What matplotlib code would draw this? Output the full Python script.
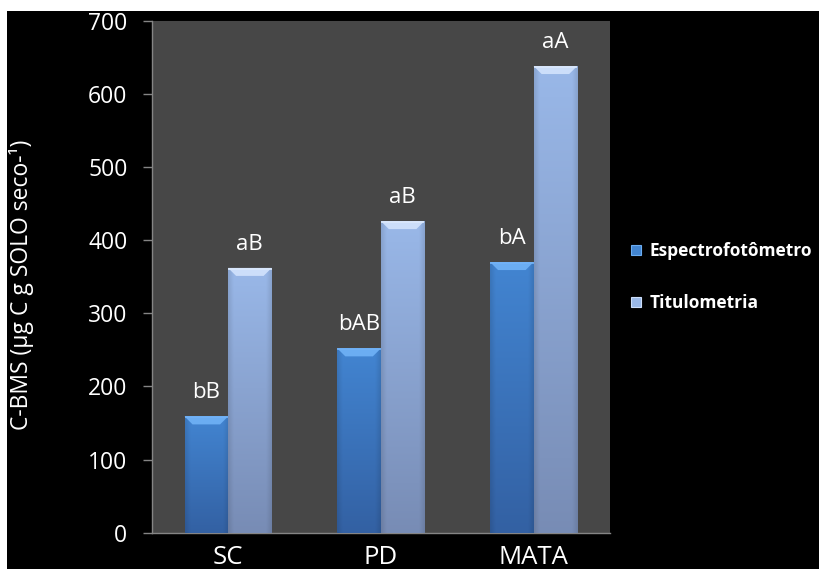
import matplotlib
matplotlib.use('Agg')
import matplotlib.pyplot as plt
import numpy as np
from matplotlib.patches import Polygon, Rectangle
from matplotlib.lines import Line2D

# ---- data ----
categories = ['SC', 'PD', 'MATA']
series_names = ['Espectrofotômetro', 'Titulometria']
espectro = [159, 252, 370]
titulo = [362, 426, 638]
letters_espectro = ['bB', 'bAB', 'bA']
letters_titulo = ['aB', 'aB', 'aA']
yticks = [0, 100, 200, 300, 400, 500, 600, 700]

plt.rcParams['font.family'] = ['Open Sans', 'DejaVu Sans']

W, H = 819, 569
fig = plt.figure(figsize=(W / 100, H / 100), dpi=100, facecolor='white')
fig.add_artist(Rectangle((7 / W, 0), 1, 1 - 11 / H, transform=fig.transFigure,
                         facecolor='black', edgecolor='none', zorder=-10))

ax_l, ax_b = 151.7 / W, 1 - 532.7 / H
ax_w, ax_h = (610 - 151.7) / W, (532.7 - 20.7) / H
ax = fig.add_axes([ax_l, ax_b, ax_w, ax_h])
ax.set_facecolor('#474747')

xmin, xmax = -0.5, len(categories) - 0.5
ymin, ymax = 0, 700
x = np.arange(len(categories))
bw = 0.285

styles = [
    dict(top=(0.26, 0.52, 0.82), bot=(0.20, 0.38, 0.64), bevel=(0.42, 0.68, 0.95), edge=(0.45, 0.70, 0.97)),
    dict(top=(0.60, 0.72, 0.91), bot=(0.47, 0.55, 0.71), bevel=(0.80, 0.87, 0.98), edge=(0.86, 0.91, 0.99)),
]

px_x = (xmax - xmin) / (ax_w * W)
px_y = (ymax - ymin) / (ax_h * H)


def draw_bar(xc, val, st, label):
    x0, x1 = xc - bw / 2, xc + bw / 2
    bar = ax.bar(xc, val, width=bw, color=st['top'], edgecolor='none', zorder=2)[0]
    n, m = 64, 32
    t = np.linspace(0, 1, n)[:, None, None]
    top = np.array(st['top'])[None, None, :]
    bot = np.array(st['bot'])[None, None, :]
    grad = top * (1 - t) + bot * t
    u = np.linspace(0, 1, m)
    side = 1 - 0.10 * (np.clip(1 - u / 0.12, 0, 1) + np.clip((u - 0.88) / 0.12, 0, 1))
    img = np.clip(grad * side[None, :, None], 0, 1)
    im = ax.imshow(img, extent=[x0, x1, 0, val], aspect='auto', origin='upper',
                   zorder=3, interpolation='bilinear')
    im.set_clip_path(bar)
    ix, iy = 8 * px_x, 8 * px_y
    bev = Polygon([(x0, val), (x1, val), (x1 - ix, val - iy), (x0 + ix, val - iy)],
                  closed=True, facecolor=st['bevel'], edgecolor='none', zorder=4)
    ax.add_patch(bev)
    ax.plot([x0, x1], [val - 0.8 * px_y, val - 0.8 * px_y], color=st['edge'], lw=1.2, zorder=5,
            solid_capstyle='butt')
    ax.text(xc, val + 18 * px_y, label, ha='center', va='baseline', color='white',
            fontsize=16, zorder=6)


for i in range(len(categories)):
    draw_bar(x[i] - bw / 2, espectro[i], styles[0], letters_espectro[i])
    draw_bar(x[i] + bw / 2, titulo[i], styles[1], letters_titulo[i])

ax.set_xlim(xmin, xmax)
ax.set_ylim(ymin, ymax)
ax.set_yticks(yticks)
ax.set_xticks(x)
ax.set_xticklabels(categories)
for s in ['top', 'right']:
    ax.spines[s].set_visible(False)
for s in ['left', 'bottom']:
    ax.spines[s].set_color('#858585')
    ax.spines[s].set_linewidth(1)
ax.tick_params(axis='y', colors='#858585', length=6.5, width=1, labelcolor='white',
               labelsize=16.5, pad=11)
ax.tick_params(axis='x', length=0, labelcolor='white', labelsize=18.5, pad=9)

fig.text(22 / W, 1 - 285 / H, 'C-BMS (µg C g SOLO seco-¹)', rotation=90,
         ha='center', va='center', color='white', fontsize=16.5)

handles = [Line2D([], [], linestyle='none', marker='s', markersize=6.5,
                  markerfacecolor=st['top'], markeredgecolor=st['bevel'], markeredgewidth=0.8)
           for st in styles]
leg = fig.legend(handles, series_names, loc='center left',
                 bbox_to_anchor=(614 / W, 1 - 277 / H), frameon=False,
                 prop={'weight': 'bold', 'size': 12.5}, labelcolor='white',
                 handlelength=0.7, handletextpad=0.45, labelspacing=2.0)

fig.savefig('out.png', dpi=100, facecolor=fig.get_facecolor())
